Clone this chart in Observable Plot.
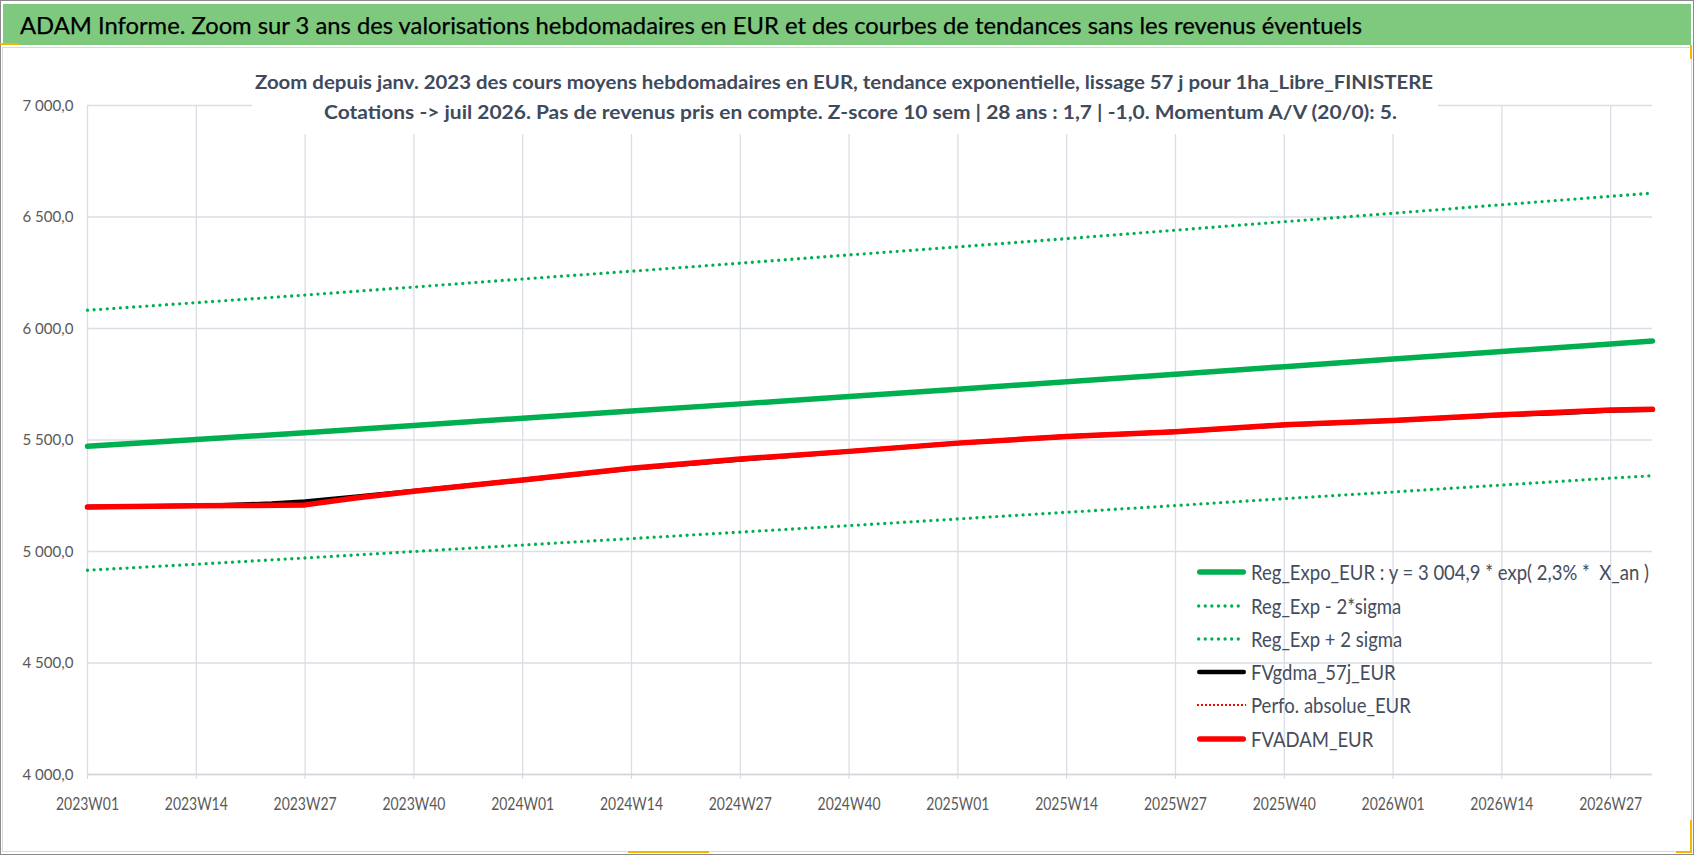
<!DOCTYPE html>
<html>
<head>
<meta charset="utf-8">
<script src="https://cdn.jsdelivr.net/npm/d3@7"></script>
<script src="https://cdn.jsdelivr.net/npm/@observablehq/plot@0.6"></script>
<style>
  body { margin: 0; background: #fff; font-family: Lato, "Open Sans", sans-serif; }
  #page { position: relative; width: 1698px; height: 856px; overflow: hidden; background: #fff; }
  #outer { position: absolute; left: 0; top: 0; width: 1694px; height: 855px; border: 1px solid #8a8a8a; box-sizing: border-box; }
  #banner { position: absolute; left: 3px; top: 4px; width: 1688px; height: 41px; background: #7fc97f; }
  #chartbox { position: absolute; left: 2px; top: 47px; width: 1690px; height: 805px; border: 1px solid #d9d9d9; box-sizing: border-box; }
  .fit { position: absolute; white-space: pre; display: inline-block; }
  #title { left: 20px; top: 4px; height: 41px; line-height: 41px; font-size: 23px; color: #000; -webkit-text-stroke: 0.25px #000; }
  #subbox { position: absolute; left: 252px; top: 62px; width: 1186px; height: 72px; background: #fff; z-index: 2; }
  .sub { font-weight: 700; font-size: 18.5px; color: #404a5b; line-height: 24px; height: 24px; z-index: 3; }
  #plotwrap { position: absolute; left: 0; top: 90px; z-index: 1; }
  #legend { position: absolute; left: 0; top: 0; z-index: 4; }
  .ltext { position: absolute; left: 1251px; white-space: pre; font-size: 22px; line-height: 26px; color: #454d5c; }
  .mark { position: absolute; background: #f2b705; z-index: 5; }
</style>
</head>
<body>
<div id="page">
  <div id="outer"></div>
  <div id="banner"></div>
  <div id="chartbox"></div>
  <div id="title" class="fit">ADAM Informe. Zoom sur 3 ans des valorisations hebdomadaires en EUR et des courbes de tendances sans les revenus éventuels</div>
  <div id="subbox"></div>
  <div id="sub1" class="fit sub">Zoom depuis janv. 2023 des cours moyens hebdomadaires en EUR, tendance exponentielle, lissage 57 j pour 1ha_Libre_FINISTERE</div>
  <div id="sub2" class="fit sub">Cotations -&gt; juil 2026. Pas de revenus pris en compte. Z-score 10 sem | 28 ans : 1,7 | -1,0. Momentum A/V (20/0): 5.</div>
  <div id="plotwrap"></div>
  <div id="legend"></div>
  <div class="mark" style="left:0px;top:43px;width:19px;height:2px"></div>
  <div class="mark" style="left:1690px;top:45px;width:2px;height:14px"></div>
  <div class="mark" style="left:628px;top:851px;width:81px;height:2px"></div>
  <div class="mark" style="left:1690px;top:820px;width:2px;height:33px"></div>
  <div class="mark" style="left:1676px;top:851px;width:16px;height:2px"></div>
</div>
<script>
// ---------- data ----------
const tickLabels = ["2023W01","2023W14","2023W27","2023W40","2024W01","2024W14","2024W27","2024W40",
                    "2025W01","2025W14","2025W27","2025W40","2026W01","2026W14","2026W27"];
const tickWeeks = [0,13,26,39,52,65,78,91,104,117,130,143,156,169,182];
const lastWeek = 187; // 2026W32
const yTicks = [4000,4500,5000,5500,6000,6500,7000];

const trendWeeks = [0,13,26,39,52,65,78,91,104,117,130,143,156,169,182,187];
const regExpoEUR = [5472,5502,5533,5565,5598,5630,5662,5695,5728,5761,5795,5829,5863,5897,5931,5944];
const regMinus2Sigma = [4916,4943,4971,5000,5029,5058,5087,5116,5146,5176,5206,5237,5267,5298,5329,5340];
const regPlus2Sigma = [6082,6116,6150,6186,6222,6257,6293,6330,6366,6403,6441,6479,6517,6555,6593,6607];

const fvadamWeeks = [0,13,18,26,32,39,52,65,78,91,104,117,130,143,156,169,182,187];
const fvadamEUR = [5199,5205,5206,5209,5240,5270,5321,5373,5415,5449,5486,5516,5537,5568,5587,5613,5635,5638];
const perfoAbsolueEUR = [5199,5205,5206,5209,5240,5270,5321,5373,5415,5449,5486,5516,5537,5568,5587,5613,5635,5638];

const fvgdmaWeeks = [0,13,16,22,26,32,39,52,65,72,78,91,104,117,130,143,156,169,176,182,187];
const fvgdma57jEUR = [5199,5205,5207,5215,5224,5246,5271,5321,5372,5393,5412,5449,5486,5516,5537,5567,5587,5612,5621,5632,5636];

const dotDash = "0 6.6";
const legendItems = [
  {label: "Reg_Expo_EUR : y = 3 004,9 * exp( 2,3% *  X_an )", color: "#00b050", width: 5.5, dash: null, cap: "round"},
  {label: "Reg_Exp - 2*sigma", color: "#00b050", width: 3.3, dash: dotDash, cap: "round"},
  {label: "Reg_Exp + 2 sigma", color: "#00b050", width: 3.3, dash: dotDash, cap: "round"},
  {label: "FVgdma_57j_EUR", color: "#000000", width: 4.5, dash: null, cap: "round"},
  {label: "Perfo. absolue_EUR", color: "#ff0000", width: 2, dash: "2 2", cap: "butt"},
  {label: "FVADAM_EUR", color: "#ff0000", width: 5.5, dash: null, cap: "round"}
];

// ---------- build tables ----------
const rows = (weeks, vals) => weeks.map((w, i) => ({week: w, value: vals[i]}));
const dExpo = rows(trendWeeks, regExpoEUR);
const dMinus = rows(trendWeeks, regMinus2Sigma);
const dPlus = rows(trendWeeks, regPlus2Sigma);
const dGdma = rows(fvgdmaWeeks, fvgdma57jEUR);
const dPerfo = rows(fvadamWeeks, perfoAbsolueEUR);
const dAdam = rows(fvadamWeeks, fvadamEUR);

const yFmt = d3.formatLocale({decimal: ",", thousands: "\u00a0", grouping: [3], currency: ["", "€"]}).format(",.1f");
const gridColor = "#dadee6";

const plot = Plot.plot({
  width: 1698,
  height: 750,
  marginLeft: 87,
  marginRight: 46,
  marginTop: 15,
  marginBottom: 66,
  style: {background: "transparent", color: "#595959", fontFamily: "Lato, sans-serif"},
  x: {domain: [0, lastWeek], axis: null, label: null},
  y: {domain: [4000, 7000], axis: null, label: null},
  marks: [
    Plot.gridY(yTicks, {stroke: gridColor, strokeOpacity: 1, strokeWidth: 1.3}),
    Plot.gridX(tickWeeks, {stroke: gridColor, strokeOpacity: 1, strokeWidth: 1.3}),
    Plot.ruleY([4000], {stroke: "#d3d6dc", strokeWidth: 1.6}),
    Plot.axisX(tickWeeks, {
      label: null,
      tickFormat: d => tickLabels[tickWeeks.indexOf(d)],
      tickSize: 5, tickPadding: 18, fontSize: 18,
      stroke: "#d3d6dc", fill: "#595959"
    }),
    Plot.axisY(yTicks, {
      label: null,
      tickFormat: yFmt, tickSize: 0, tickPadding: 14, fontSize: 16, fill: "#595959"
    }),
    Plot.line(dExpo, {x: "week", y: "value", stroke: "#00b050", strokeWidth: 5.5, strokeLinecap: "round", strokeLinejoin: "round"}),
    Plot.line(dMinus, {x: "week", y: "value", stroke: "#00b050", strokeWidth: 3.3, strokeDasharray: dotDash, strokeLinecap: "round"}),
    Plot.line(dPlus, {x: "week", y: "value", stroke: "#00b050", strokeWidth: 3.3, strokeDasharray: dotDash, strokeLinecap: "round"}),
    Plot.line(dGdma, {x: "week", y: "value", stroke: "#000000", strokeWidth: 4.5, strokeLinecap: "round", strokeLinejoin: "round"}),
    Plot.line(dPerfo, {x: "week", y: "value", stroke: "#ff0000", strokeWidth: 2, strokeDasharray: "2 2"}),
    Plot.line(dAdam, {x: "week", y: "value", stroke: "#ff0000", strokeWidth: 5.5, strokeLinecap: "round", strokeLinejoin: "round"})
  ]
});
document.getElementById("plotwrap").appendChild(plot);

// condense axis labels like the original narrow font
plot.querySelectorAll('g[aria-label="x-axis tick label"] text').forEach(t => {
  t.setAttribute("textLength", 63); t.setAttribute("lengthAdjust", "spacingAndGlyphs");
});
plot.querySelectorAll('g[aria-label="y-axis tick label"] text').forEach(t => {
  t.setAttribute("textLength", 51); t.setAttribute("lengthAdjust", "spacingAndGlyphs");
});

// ---------- legend (HTML, inside plot area) ----------
const legend = document.getElementById("legend");
const rowCenters = [572, 605.5, 639, 672, 705, 739];
legendItems.forEach((it, i) => {
  const c = rowCenters[i];
  const sw = document.createElementNS("http://www.w3.org/2000/svg", "svg");
  sw.setAttribute("width", 60); sw.setAttribute("height", 14);
  sw.style.position = "absolute"; sw.style.left = "1192px"; sw.style.top = (c - 7) + "px";
  const ln = document.createElementNS("http://www.w3.org/2000/svg", "line");
  const pad = it.cap === "round" ? Math.min(it.width / 2, 3) : 0;
  ln.setAttribute("x1", 5 + pad); ln.setAttribute("x2", 54 - pad);
  ln.setAttribute("y1", 7); ln.setAttribute("y2", 7);
  ln.setAttribute("stroke", it.color); ln.setAttribute("stroke-width", it.width);
  ln.setAttribute("stroke-linecap", it.cap);
  if (it.dash) ln.setAttribute("stroke-dasharray", it.dash);
  sw.appendChild(ln);
  legend.appendChild(sw);
  const tx = document.createElement("div");
  tx.className = "ltext";
  tx.style.top = (c - 13) + "px";
  tx.textContent = it.label;
  legend.appendChild(tx);
});

// ---------- position / fit titles ----------
function place(id, left, center, target) {
  const el = document.getElementById(id);
  el.style.transform = "none";
  el.style.left = left + "px";
  const r = el.getBoundingClientRect();
  el.style.top = (center - r.height / 2) + "px";
  el.style.transformOrigin = "left center";
  el.style.transform = `scaleX(${target / r.width})`;
}
function layout() {
  place("title", 20, 25, 1342);
  place("sub1", 255, 82, 1178);
  place("sub2", 324, 112, 1073);
  const texts = legend.querySelectorAll(".ltext");
  texts.forEach(t => { t.style.transform = "none"; });
  const w0 = texts[0].getBoundingClientRect().width;
  const k = 398 / w0;
  texts.forEach(t => { t.style.transformOrigin = "left center"; t.style.transform = `scaleX(${k})`; });
}
layout();
if (document.fonts && document.fonts.ready) document.fonts.ready.then(layout);
</script>
</body>
</html>
